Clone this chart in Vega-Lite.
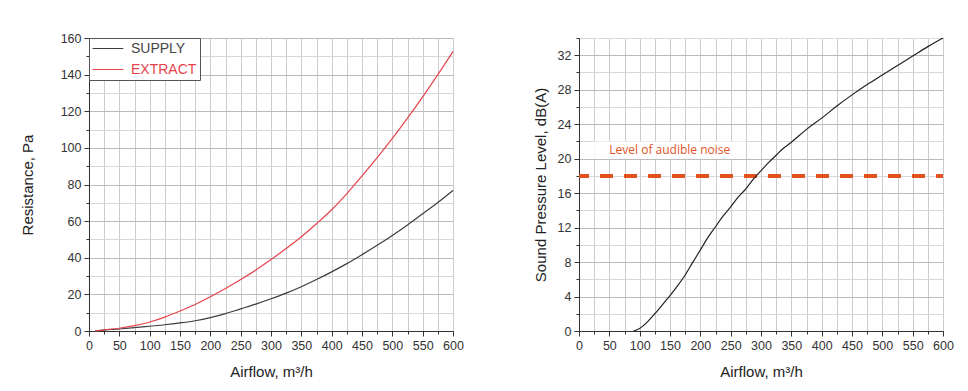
{
  "$schema": "https://vega.github.io/schema/vega-lite/v6.json",
  "background": "white",
  "padding": {"left": 19, "top": 31, "right": 5, "bottom": 5},
  "spacing": 68,
  "config": {
    "view": {"stroke": "#c4c4c4", "strokeWidth": 1},
    "font": "Liberation Sans",
    "axis": {
      "labelFont": "Liberation Sans",
      "labelFontSize": 12.5,
      "labelColor": "#333333",
      "labelFlush": false,
      "labelOverlap": false,
      "titleFont": "Liberation Sans",
      "titleFontSize": 15,
      "titleFontWeight": "normal",
      "titleColor": "#222222",
      "domainColor": "#333333",
      "domainWidth": 1,
      "tickColor": "#333333",
      "gridWidth": 1,
      "labelPadding": 3
    }
  },
  "datasets": {
    "resistance": [
      {"airflow": 10, "pa": 0, "series": "SUPPLY"},
      {"airflow": 25, "pa": 0.5, "series": "SUPPLY"},
      {"airflow": 50, "pa": 1.1, "series": "SUPPLY"},
      {"airflow": 75, "pa": 1.8, "series": "SUPPLY"},
      {"airflow": 100, "pa": 2.6, "series": "SUPPLY"},
      {"airflow": 125, "pa": 3.4, "series": "SUPPLY"},
      {"airflow": 150, "pa": 4.4, "series": "SUPPLY"},
      {"airflow": 175, "pa": 5.6, "series": "SUPPLY"},
      {"airflow": 200, "pa": 7.3, "series": "SUPPLY"},
      {"airflow": 225, "pa": 9.5, "series": "SUPPLY"},
      {"airflow": 250, "pa": 12.1, "series": "SUPPLY"},
      {"airflow": 275, "pa": 14.7, "series": "SUPPLY"},
      {"airflow": 300, "pa": 17.6, "series": "SUPPLY"},
      {"airflow": 325, "pa": 20.7, "series": "SUPPLY"},
      {"airflow": 350, "pa": 24.2, "series": "SUPPLY"},
      {"airflow": 375, "pa": 28.1, "series": "SUPPLY"},
      {"airflow": 400, "pa": 32.3, "series": "SUPPLY"},
      {"airflow": 425, "pa": 36.8, "series": "SUPPLY"},
      {"airflow": 450, "pa": 41.7, "series": "SUPPLY"},
      {"airflow": 475, "pa": 46.8, "series": "SUPPLY"},
      {"airflow": 500, "pa": 52.2, "series": "SUPPLY"},
      {"airflow": 525, "pa": 57.9, "series": "SUPPLY"},
      {"airflow": 550, "pa": 64.0, "series": "SUPPLY"},
      {"airflow": 575, "pa": 70.2, "series": "SUPPLY"},
      {"airflow": 600, "pa": 76.8, "series": "SUPPLY"},
      {"airflow": 10, "pa": 0, "series": "EXTRACT"},
      {"airflow": 25, "pa": 0.6, "series": "EXTRACT"},
      {"airflow": 50, "pa": 1.5, "series": "EXTRACT"},
      {"airflow": 75, "pa": 2.9, "series": "EXTRACT"},
      {"airflow": 100, "pa": 4.9, "series": "EXTRACT"},
      {"airflow": 125, "pa": 7.6, "series": "EXTRACT"},
      {"airflow": 150, "pa": 10.9, "series": "EXTRACT"},
      {"airflow": 175, "pa": 14.5, "series": "EXTRACT"},
      {"airflow": 200, "pa": 18.7, "series": "EXTRACT"},
      {"airflow": 225, "pa": 23.2, "series": "EXTRACT"},
      {"airflow": 250, "pa": 28.1, "series": "EXTRACT"},
      {"airflow": 275, "pa": 33.3, "series": "EXTRACT"},
      {"airflow": 300, "pa": 39.0, "series": "EXTRACT"},
      {"airflow": 325, "pa": 45.0, "series": "EXTRACT"},
      {"airflow": 350, "pa": 51.5, "series": "EXTRACT"},
      {"airflow": 375, "pa": 58.6, "series": "EXTRACT"},
      {"airflow": 400, "pa": 66.2, "series": "EXTRACT"},
      {"airflow": 425, "pa": 75.0, "series": "EXTRACT"},
      {"airflow": 450, "pa": 84.7, "series": "EXTRACT"},
      {"airflow": 475, "pa": 94.7, "series": "EXTRACT"},
      {"airflow": 500, "pa": 105.2, "series": "EXTRACT"},
      {"airflow": 525, "pa": 116.3, "series": "EXTRACT"},
      {"airflow": 550, "pa": 127.9, "series": "EXTRACT"},
      {"airflow": 575, "pa": 140.0, "series": "EXTRACT"},
      {"airflow": 600, "pa": 152.6, "series": "EXTRACT"}
    ],
    "sound": [
      {"airflow": 90, "db": 0},
      {"airflow": 100, "db": 0.3},
      {"airflow": 112, "db": 1.0},
      {"airflow": 125, "db": 2.0},
      {"airflow": 137, "db": 3.0},
      {"airflow": 150, "db": 4.1},
      {"airflow": 162, "db": 5.2},
      {"airflow": 175, "db": 6.5},
      {"airflow": 187, "db": 7.9},
      {"airflow": 200, "db": 9.4},
      {"airflow": 212, "db": 10.8},
      {"airflow": 225, "db": 12.1},
      {"airflow": 237, "db": 13.3},
      {"airflow": 250, "db": 14.4},
      {"airflow": 262, "db": 15.5},
      {"airflow": 275, "db": 16.5},
      {"airflow": 287, "db": 17.6},
      {"airflow": 300, "db": 18.6},
      {"airflow": 312, "db": 19.5},
      {"airflow": 325, "db": 20.4},
      {"airflow": 337, "db": 21.2},
      {"airflow": 350, "db": 21.9},
      {"airflow": 375, "db": 23.4},
      {"airflow": 400, "db": 24.7},
      {"airflow": 425, "db": 26.1},
      {"airflow": 450, "db": 27.4},
      {"airflow": 475, "db": 28.6},
      {"airflow": 500, "db": 29.7},
      {"airflow": 525, "db": 30.8},
      {"airflow": 550, "db": 31.9},
      {"airflow": 575, "db": 33.0},
      {"airflow": 600, "db": 34.0}
    ],
    "threshold": [
      {"label": "Level of audible noise", "level": 18, "boxStart": 25, "boxEnd": 274, "boxLow": 20, "boxHigh": 22, "textX": 50, "textY": 21}
    ]
  },
  "hconcat": [
    {
      "width": 364,
      "height": 293,
      "data": {"name": "resistance"},
      "mark": {"type": "line", "strokeWidth": 1.2, "interpolate": "monotone"},
      "encoding": {
        "x": {
          "field": "airflow", "type": "quantitative",
          "scale": {"domain": [0, 600], "nice": false},
          "axis": {
            "title": "Airflow, m³/h",
            "titlePadding": 13,
            "values": [0,25,50,75,100,125,150,175,200,225,250,275,300,325,350,375,400,425,450,475,500,525,550,575,600],
            "labelExpr": "datum.value % 50 == 0 ? datum.label : ''",
            "tickSize": {"condition": {"test": "datum.value % 50 == 0", "value": 5}, "value": 3},
            "gridColor": "#cccccc"
          }
        },
        "y": {
          "field": "pa", "type": "quantitative",
          "scale": {"domain": [0, 160], "nice": false},
          "axis": {
            "title": "Resistance, Pa",
            "titlePadding": 25,
            "values": [0,10,20,30,40,50,60,70,80,90,100,110,120,130,140,150,160],
            "labelExpr": "datum.value % 20 == 0 ? datum.label : ''",
            "tickSize": {"condition": {"test": "datum.value % 20 == 0", "value": 5}, "value": 3},
            "gridColor": {"condition": {"test": "datum.value % 20 == 0", "value": "#bbbbbb"}, "value": "#d8d8d8"}
          }
        },
        "color": {
          "field": "series", "type": "nominal",
          "scale": {"domain": ["SUPPLY", "EXTRACT"], "range": ["#3c3c3c", "#e8434b"]},
          "legend": {
            "title": null,
            "orient": "top-left",
            "offset": 0,
            "fillColor": "white",
            "strokeColor": "#555555",
            "padding": 3,
            "symbolType": "M-1,0H3.4",
            "symbolSize": 196,
            "symbolStrokeWidth": 1,
            "labelFont": "Liberation Sans",
            "labelFontSize": 14,
            "labelOffset": 24,
            "rowPadding": 6,
            "encode": {
              "labels": {"update": {"fill": {"signal": "datum.label == 'EXTRACT' ? '#e8434b' : '#444444'"}}}
            }
          }
        }
      }
    },
    {
      "width": 364,
      "height": 293,
      "layer": [
        {
          "data": {"name": "threshold"},
          "mark": {"type": "rect", "fill": "white"},
          "encoding": {
            "x": {
              "field": "boxStart", "type": "quantitative",
              "scale": {"domain": [0, 600], "nice": false},
              "axis": {
                "title": "Airflow, m³/h",
                "titlePadding": 13,
                "values": [0,25,50,75,100,125,150,175,200,225,250,275,300,325,350,375,400,425,450,475,500,525,550,575,600],
                "labelExpr": "datum.value % 50 == 0 ? datum.label : ''",
                "tickSize": {"condition": {"test": "datum.value % 50 == 0", "value": 5}, "value": 3},
                "gridColor": "#cccccc"
              }
            },
            "x2": {"field": "boxEnd"},
            "y": {
              "field": "boxLow", "type": "quantitative",
              "scale": {"domain": [0, 34], "nice": false},
              "axis": {
                "title": "Sound Pressure Level, dB(A)",
                "titlePadding": 9,
                "values": [0,2,4,6,8,10,12,14,16,18,20,22,24,26,28,30,32,34],
                "labelExpr": "datum.value % 4 == 0 && datum.value < 34 ? datum.label : ''",
                "tickSize": {"condition": {"test": "datum.value % 4 == 0", "value": 5}, "value": 3},
                "gridColor": {"condition": {"test": "datum.value % 4 == 0", "value": "#bbbbbb"}, "value": "#d8d8d8"}
              }
            },
            "y2": {"field": "boxHigh"}
          }
        },
        {
          "data": {"name": "threshold"},
          "mark": {"type": "rule", "color": "#e2531f", "strokeWidth": 4, "strokeDash": [13, 11], "strokeDashOffset": 6},
          "encoding": {
            "y": {
              "field": "level", "type": "quantitative",
              "scale": {"domain": [0, 34], "nice": false},
              "axis": {
                "title": "Sound Pressure Level, dB(A)",
                "titlePadding": 9,
                "values": [0,2,4,6,8,10,12,14,16,18,20,22,24,26,28,30,32,34],
                "labelExpr": "datum.value % 4 == 0 && datum.value < 34 ? datum.label : ''",
                "tickSize": {"condition": {"test": "datum.value % 4 == 0", "value": 5}, "value": 3},
                "gridColor": {"condition": {"test": "datum.value % 4 == 0", "value": "#bbbbbb"}, "value": "#d8d8d8"}
              }
            }
          }
        },
        {
          "data": {"name": "threshold"},
          "mark": {"type": "text", "align": "left", "baseline": "middle", "font": "Open Sans", "fontSize": 12, "color": "#e2531f"},
          "encoding": {
            "x": {
              "field": "textX", "type": "quantitative",
              "scale": {"domain": [0, 600], "nice": false},
              "axis": {
                "title": "Airflow, m³/h",
                "titlePadding": 13,
                "values": [0,25,50,75,100,125,150,175,200,225,250,275,300,325,350,375,400,425,450,475,500,525,550,575,600],
                "labelExpr": "datum.value % 50 == 0 ? datum.label : ''",
                "tickSize": {"condition": {"test": "datum.value % 50 == 0", "value": 5}, "value": 3},
                "gridColor": "#cccccc"
              }
            },
            "y": {
              "field": "textY", "type": "quantitative",
              "scale": {"domain": [0, 34], "nice": false},
              "axis": {
                "title": "Sound Pressure Level, dB(A)",
                "titlePadding": 9,
                "values": [0,2,4,6,8,10,12,14,16,18,20,22,24,26,28,30,32,34],
                "labelExpr": "datum.value % 4 == 0 && datum.value < 34 ? datum.label : ''",
                "tickSize": {"condition": {"test": "datum.value % 4 == 0", "value": 5}, "value": 3},
                "gridColor": {"condition": {"test": "datum.value % 4 == 0", "value": "#bbbbbb"}, "value": "#d8d8d8"}
              }
            },
            "text": {"field": "label"}
          }
        },
        {
          "data": {"name": "sound"},
          "mark": {"type": "line", "strokeWidth": 1.2, "color": "#222222", "interpolate": "monotone"},
          "encoding": {
            "x": {
              "field": "airflow", "type": "quantitative",
              "scale": {"domain": [0, 600], "nice": false},
              "axis": {
                "title": "Airflow, m³/h",
                "titlePadding": 13,
                "values": [0,25,50,75,100,125,150,175,200,225,250,275,300,325,350,375,400,425,450,475,500,525,550,575,600],
                "labelExpr": "datum.value % 50 == 0 ? datum.label : ''",
                "tickSize": {"condition": {"test": "datum.value % 50 == 0", "value": 5}, "value": 3},
                "gridColor": "#cccccc"
              }
            },
            "y": {
              "field": "db", "type": "quantitative",
              "scale": {"domain": [0, 34], "nice": false},
              "axis": {
                "title": "Sound Pressure Level, dB(A)",
                "titlePadding": 9,
                "values": [0,2,4,6,8,10,12,14,16,18,20,22,24,26,28,30,32,34],
                "labelExpr": "datum.value % 4 == 0 && datum.value < 34 ? datum.label : ''",
                "tickSize": {"condition": {"test": "datum.value % 4 == 0", "value": 5}, "value": 3},
                "gridColor": {"condition": {"test": "datum.value % 4 == 0", "value": "#bbbbbb"}, "value": "#d8d8d8"}
              }
            }
          }
        }
      ]
    }
  ]
}
